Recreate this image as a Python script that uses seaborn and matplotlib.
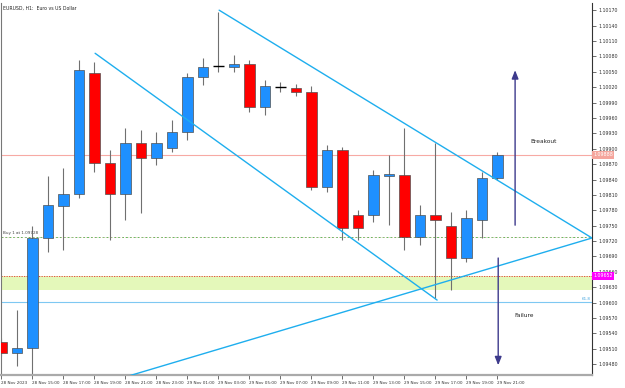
import matplotlib
matplotlib.use("Agg")
import matplotlib.pyplot as plt
import numpy as np
import pandas as pd
import seaborn as sns

# ---------------- data ----------------
opens = [1.09523, 1.09502, 1.09512, 1.09726, 1.09788, 1.09812, 1.10047, 1.09872,
         1.09812, 1.09911, 1.09882, 1.09901, 1.09932, 1.10040, 1.10061, 1.10059,
         1.10065, 1.09981, 1.10020, 1.10018, 1.10010, 1.09825, 1.09897, 1.09771,
         1.09771, 1.09847, 1.09849, 1.09728, 1.09771, 1.09749, 1.09687, 1.09761,
         1.09843]
highs = [1.09531, 1.09586, 1.09749, 1.09847, 1.09862, 1.10073, 1.10069, 1.09897,
         1.09940, 1.09936, 1.09932, 1.09956, 1.10047, 1.10077, 1.10166, 1.10082,
         1.10073, 1.10034, 1.10030, 1.10026, 1.10022, 1.09907, 1.09903, 1.09780,
         1.09858, 1.09888, 1.09940, 1.09790, 1.09911, 1.09777, 1.09780, 1.09854,
         1.09893]
lows = [1.09496, 1.09477, 1.09459, 1.09699, 1.09703, 1.09804, 1.09854, 1.09722,
        1.09761, 1.09775, 1.09868, 1.09893, 1.09917, 1.10024, 1.10049, 1.10049,
        1.09971, 1.09965, 1.10010, 1.10002, 1.09819, 1.09815, 1.09722, 1.09722,
        1.09757, 1.09751, 1.09703, 1.09712, 1.09609, 1.09625, 1.09679, 1.09726,
        1.09839]
closes = [1.09502, 1.09512, 1.09726, 1.09790, 1.09812, 1.10053, 1.09872, 1.09812,
          1.09911, 1.09882, 1.09911, 1.09932, 1.10040, 1.10059, 1.10061, 1.10065,
          1.09981, 1.10022, 1.10020, 1.10010, 1.09825, 1.09897, 1.09745, 1.09745,
          1.09849, 1.09851, 1.09728, 1.09771, 1.09761, 1.09687, 1.09765, 1.09843,
          1.09888]

x_tick_pos = [0, 2, 4, 6, 8, 10, 12, 14, 16, 18, 20, 22, 24, 26, 28, 30, 32]
x_tick_labels = ["28 Nov 2023", "28 Nov 15:00", "28 Nov 17:00", "28 Nov 19:00",
                 "28 Nov 21:00", "28 Nov 23:00", "29 Nov 01:00", "29 Nov 03:00",
                 "29 Nov 05:00", "29 Nov 07:00", "29 Nov 09:00", "29 Nov 11:00",
                 "29 Nov 13:00", "29 Nov 15:00", "29 Nov 17:00", "29 Nov 19:00",
                 "29 Nov 21:00"]
y_ticks = [1.10170, 1.10140, 1.10110, 1.10080, 1.10050, 1.10020, 1.09990, 1.09960,
           1.09930, 1.09900, 1.09870, 1.09840, 1.09810, 1.09780, 1.09750, 1.09720,
           1.09690, 1.09660, 1.09630, 1.09600, 1.09570, 1.09540, 1.09510, 1.09480]

bid_price = 1.09888
buy_price = 1.09728
stop_price = 1.09652
band_low, band_high = 1.09625, 1.09652
fib_price = 1.09601

# trend lines: (x0, y0, x1, y1) in bar index / price
trend_lower = [6.05, 1.10086, 28.11, 1.09605]
trend_upper = [14.05, 1.10170, 38.1, 1.09726]
trend_rising = [7.98, 1.09455, 38.1, 1.09726]
breakout_arrow = [33.14, 1.09751, 1.10053]
failure_arrow = [32.05, 1.09687, 1.09478]

# ---------------- figure ----------------
sns.set_style("white")
plt.rcParams["font.family"] = ["DejaVu Sans"]

fig = plt.figure(figsize=(6.25, 3.88), dpi=100)
ax = fig.add_axes([1 / 625, 13 / 388, 591 / 625, 372 / 388])
ax.set_xlim(-0.02, 38.1)
ax.set_ylim(1.09459, 1.10184)

df = pd.DataFrame({"o": opens, "h": highs, "l": lows, "c": closes})
df["i"] = np.arange(len(df))

# band and horizontal lines
ax.axhspan(band_low, band_high, color="#E4F8BA", lw=0, zorder=0)
ax.axhline(bid_price, color="#F7AAA4", lw=0.8, zorder=1)
ax.axhline(buy_price, color="#5DBE5D", lw=0.7, ls=(0, (2, 2)), zorder=1)
ax.axhline(buy_price, color="#F0A0A0", lw=0.5, ls=(2, (1, 3)), zorder=1)
ax.axhline(stop_price, color="#E83030", lw=0.6, ls=(0, (1.5, 1.5)), zorder=1)
ax.axhline(fib_price, color="#7EC8F2", lw=0.8, zorder=1)

# wicks
ax.vlines(df["i"], df["l"], df["h"], color="#707070", lw=0.8, zorder=2)

# bodies
up = df[df["c"] > df["o"]]
dn = df[df["c"] < df["o"]]
dj = df[df["c"] == df["o"]]
ax.bar(up["i"], up["c"] - up["o"], bottom=up["o"], width=0.68,
       color="#1E90FF", edgecolor="#505050", lw=0.5, zorder=3)
ax.bar(dn["i"], dn["o"] - dn["c"], bottom=dn["c"], width=0.68,
       color="#FF0000", edgecolor="#505050", lw=0.5, zorder=3)
ax.hlines(dj["o"], dj["i"] - 0.34, dj["i"] + 0.34, color="black", lw=1.0, zorder=3)

# trend lines with seaborn
for t in (trend_lower, trend_upper, trend_rising):
    tl = pd.DataFrame({"x": [t[0], t[2]], "y": [t[1], t[3]]})
    sns.lineplot(data=tl, x="x", y="y", ax=ax, color="#1EAEEE", lw=1.0, zorder=4)

# arrows
arrow_col = "#3D3A8C"
ax.annotate("", xy=(breakout_arrow[0], breakout_arrow[2]),
            xytext=(breakout_arrow[0], breakout_arrow[1]),
            arrowprops=dict(arrowstyle="-|>,head_length=0.5,head_width=0.2",
                            color=arrow_col, lw=1.0, shrinkA=0, shrinkB=0), zorder=5)
ax.annotate("", xy=(failure_arrow[0], failure_arrow[2]),
            xytext=(failure_arrow[0], failure_arrow[1]),
            arrowprops=dict(arrowstyle="-|>,head_length=0.5,head_width=0.2",
                            color=arrow_col, lw=1.0, shrinkA=0, shrinkB=0), zorder=5)

ax.text(34.1, 1.09915, "Breakout", fontsize=4.2, color="#222222", va="center", ha="left")
ax.text(33.1, 1.09574, "Failure", fontsize=4.2, color="#222222", va="center", ha="left")
ax.text(0.1, buy_price + 0.00003, "Buy 1 at 1.09728", fontsize=3, color="#444444",
        va="bottom", ha="left")
ax.text(38.0, fib_price + 0.00002, "61.8", fontsize=3, color="#4AA8E0",
        va="bottom", ha="right")
ax.text(0.004, 0.993, "EURUSD, H1:  Euro vs US Dollar", transform=ax.transAxes,
        fontsize=3.3, va="top", ha="left", color="#222222")

# axes styling
ax.set_xlabel("")
ax.set_ylabel("")
ax.yaxis.tick_right()
ax.set_yticks(y_ticks)
ax.set_yticklabels([f"{v:.5f}" for v in y_ticks])
ax.set_xticks(x_tick_pos)
ax.set_xticklabels(x_tick_labels)
for lab in ax.get_xticklabels():
    lab.set_ha("left")
ax.tick_params(axis="y", direction="out", length=3, width=0.5, labelsize=3.4,
               colors="#333333", pad=1.5, right=True, left=False)
ax.tick_params(axis="x", direction="out", length=3, width=0.5, labelsize=3.0,
               colors="#333333", pad=1.5, bottom=True)
ax.grid(False)
ax.spines["top"].set_visible(False)
ax.spines["left"].set_color("#777777")
ax.spines["left"].set_linewidth(0.8)
ax.spines["right"].set_color("#333333")
ax.spines["right"].set_linewidth(0.8)
ax.spines["bottom"].set_color("#AAAAAA")
ax.spines["bottom"].set_linewidth(1.6)

# price labels on the right axis
ax.text(1.002, bid_price, f"{bid_price:.5f}", transform=ax.get_yaxis_transform(),
        fontsize=3.4, color="white", va="center", ha="left",
        bbox=dict(boxstyle="square,pad=0.25", fc="#F5A59C", ec="none"))
ax.text(1.002, stop_price, f"{stop_price:.5f}", transform=ax.get_yaxis_transform(),
        fontsize=3.4, color="white", va="center", ha="left",
        bbox=dict(boxstyle="square,pad=0.25", fc="#FF00FF", ec="none"))

fig.savefig("out.png", dpi=100)
